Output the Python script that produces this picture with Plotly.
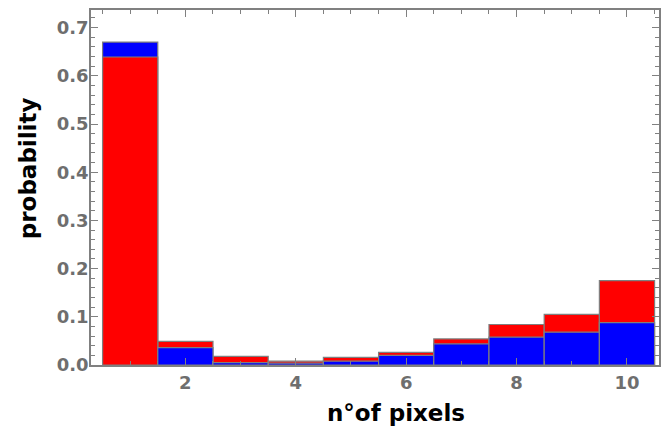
import plotly.graph_objects as go

bins = [1, 2, 3, 4, 5, 6, 7, 8, 9, 10]
red = [0.639, 0.049, 0.018, 0.008, 0.016, 0.026, 0.054, 0.084, 0.105, 0.175]
blue = [0.670, 0.036, 0.005, 0.004, 0.008, 0.020, 0.044, 0.058, 0.068, 0.088]

RED = "#ff0000"
BLUE = "#0000ff"

back_vals, back_cols, front_vals, front_cols = [], [], [], []
for r, b in zip(red, blue):
    if r >= b:
        back_vals.append(r); back_cols.append(RED)
        front_vals.append(b); front_cols.append(BLUE)
    else:
        back_vals.append(b); back_cols.append(BLUE)
        front_vals.append(r); front_cols.append(RED)

fig = go.Figure()
for vals, cols in [(back_vals, back_cols), (front_vals, front_cols)]:
    fig.add_trace(go.Bar(
        x=bins, y=vals, width=1.0,
        marker=dict(color=cols, line=dict(color="#7f7f7f", width=1.2)),
        showlegend=False,
    ))

tickfont = dict(family="DejaVu Sans", size=18, color="#6e6e6e", weight="bold")
titlefont = dict(family="Comic Sans MS, DejaVu Sans", size=23, color="black", weight="bold")

fig.update_layout(
    barmode="overlay",
    width=662, height=427,
    margin=dict(l=91, r=1, t=10, b=62),
    plot_bgcolor="white", paper_bgcolor="white",
    xaxis=dict(
        range=[0.29, 10.58], tickvals=[2, 4, 6, 8, 10],
        ticks="inside", ticklen=7, tickcolor="#808080", tickwidth=1,
        minor=dict(dtick=0.5, tick0=0, ticks="inside", ticklen=4, tickcolor="#808080"),
        showline=True, linecolor="#808080", linewidth=1.5, mirror="ticks",
        showgrid=False, zeroline=False,
        tickfont=tickfont,
        ticklabelstandoff=1,
    ),
    yaxis=dict(
        range=[0, 0.7365], tickvals=[0, 0.1, 0.2, 0.3, 0.4, 0.5, 0.6, 0.7],
        ticktext=["0.0", "0.1", "0.2", "0.3", "0.4", "0.5", "0.6", "0.7"],
        ticks="inside", ticklen=7, tickcolor="#808080", tickwidth=1,
        minor=dict(dtick=0.02, tick0=0, ticks="inside", ticklen=4, tickcolor="#808080"),
        showline=True, linecolor="#808080", linewidth=1.5, mirror="ticks",
        showgrid=False, zeroline=False,
        tickfont=tickfont,
        ticklabelstandoff=-3,
    ),
    annotations=[
        dict(text="n°of pixels", xref="paper", yref="paper", x=0.537, y=-0.135,
             xanchor="center", yanchor="middle", showarrow=False, font=titlefont),
        dict(text="probability", xref="paper", yref="paper", x=-0.1105, y=0.555,
             xanchor="center", yanchor="middle", showarrow=False, font=titlefont, textangle=-90),
    ],
)

fig.write_html("out.html")
